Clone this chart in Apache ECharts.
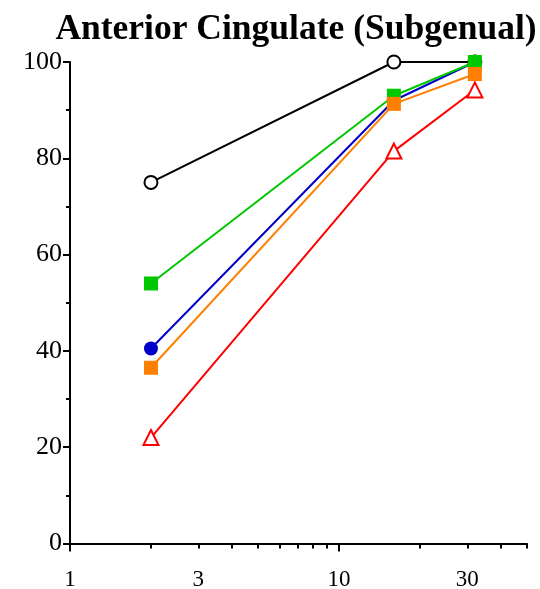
<!DOCTYPE html>
<html><head><meta charset="utf-8">
<script src="https://cdn.jsdelivr.net/npm/echarts@6/dist/echarts.min.js"></script>
<style>html,body{margin:0;padding:0;background:#fff}#c{width:540px;height:589px}</style>
</head><body><div id="c"></div>
<script>
const xValues = [2, 16, 32];
const blackOpen = [75, 100, 100];
const greenSq = [54, 93, 100];
const blueDot = [40.5, 92, 100];
const orangeSq = [36.5, 91.3, 97.5];
const redTri = [22, 81.5, 94.2];
const xMajorTicks = [1, 10];
const xMinorTicks = [2, 3, 4, 5, 6, 7, 8, 9, 20, 30, 40, 50];
const xTickLabels = [1, 3, 10, 30];

const FONT = "'Liberation Serif','Times New Roman',serif";
const pairs = ys => xValues.map((x, i) => [x, ys[i]]);

function mk(name, ys, color, symbol, size, filled) {
  return {
    name, type: 'line', data: pairs(ys), symbol, symbolSize: size,
    lineStyle: { color, width: 2 },
    itemStyle: filled ? { color, borderWidth: 0 } : { color: '#fff', borderColor: color, borderWidth: 2 },
    showAllSymbol: true, animation: false, z: 2
  };
}

const baseX = {
  type: 'log', logBase: 10, min: 1, max: 50, position: 'bottom',
  axisLine: { show: false }, splitLine: { show: false }, axisLabel: { show: false }, axisTick: { show: false }
};

const option = {
  animation: false,
  title: { text: 'Anterior Cingulate (Subgenual)', left: 291, top: 7, textAlign: 'center',
    textStyle: { fontFamily: FONT, fontWeight: 'bold', fontSize: 35.5, color: '#000' } },
  grid: { left: 70, right: 13, top: 62, bottom: 45.5, containLabel: false, outerBoundsMode: 'none' },
  xAxis: [
    Object.assign({}, baseX, {
      axisLine: { show: true, lineStyle: { color: '#000', width: 2 } },
      axisTick: { show: true, customValues: xMajorTicks, length: 8, lineStyle: { color: '#000', width: 2 } },
      axisLabel: { show: true, customValues: xTickLabels, margin: 25, fontFamily: FONT, fontSize: 23, color: '#000',
        formatter: v => String(v) }
    }),
    Object.assign({}, baseX, {
      axisTick: { show: true, customValues: xMinorTicks, length: 5, lineStyle: { color: '#000', width: 2 } }
    })
  ],
  yAxis: {
    type: 'value', min: 0, max: 100, interval: 20,
    axisLine: { show: true, lineStyle: { color: '#000', width: 2 } },
    axisTick: { show: true, length: 7, lineStyle: { color: '#000', width: 2 } },
    minorTick: { show: true, splitNumber: 2, length: 4, lineStyle: { color: '#000', width: 2 } },
    splitLine: { show: false },
    axisLabel: { fontFamily: FONT, fontSize: 26, color: '#000', margin: 8 }
  },
  series: [
    mk('black', blackOpen, '#000', 'circle', 13, false),
    mk('blue', blueDot, '#0000c8', 'circle', 14, true),
    mk('green', greenSq, '#00c800', 'rect', 14, true),
    mk('orange', orangeSq, '#ff8000', 'rect', 14, true),
    mk('red', redTri, '#ff0000', 'triangle', 15, false)
  ]
};
echarts.init(document.getElementById('c'), null, { renderer: 'canvas' }).setOption(option);
</script></body></html>
